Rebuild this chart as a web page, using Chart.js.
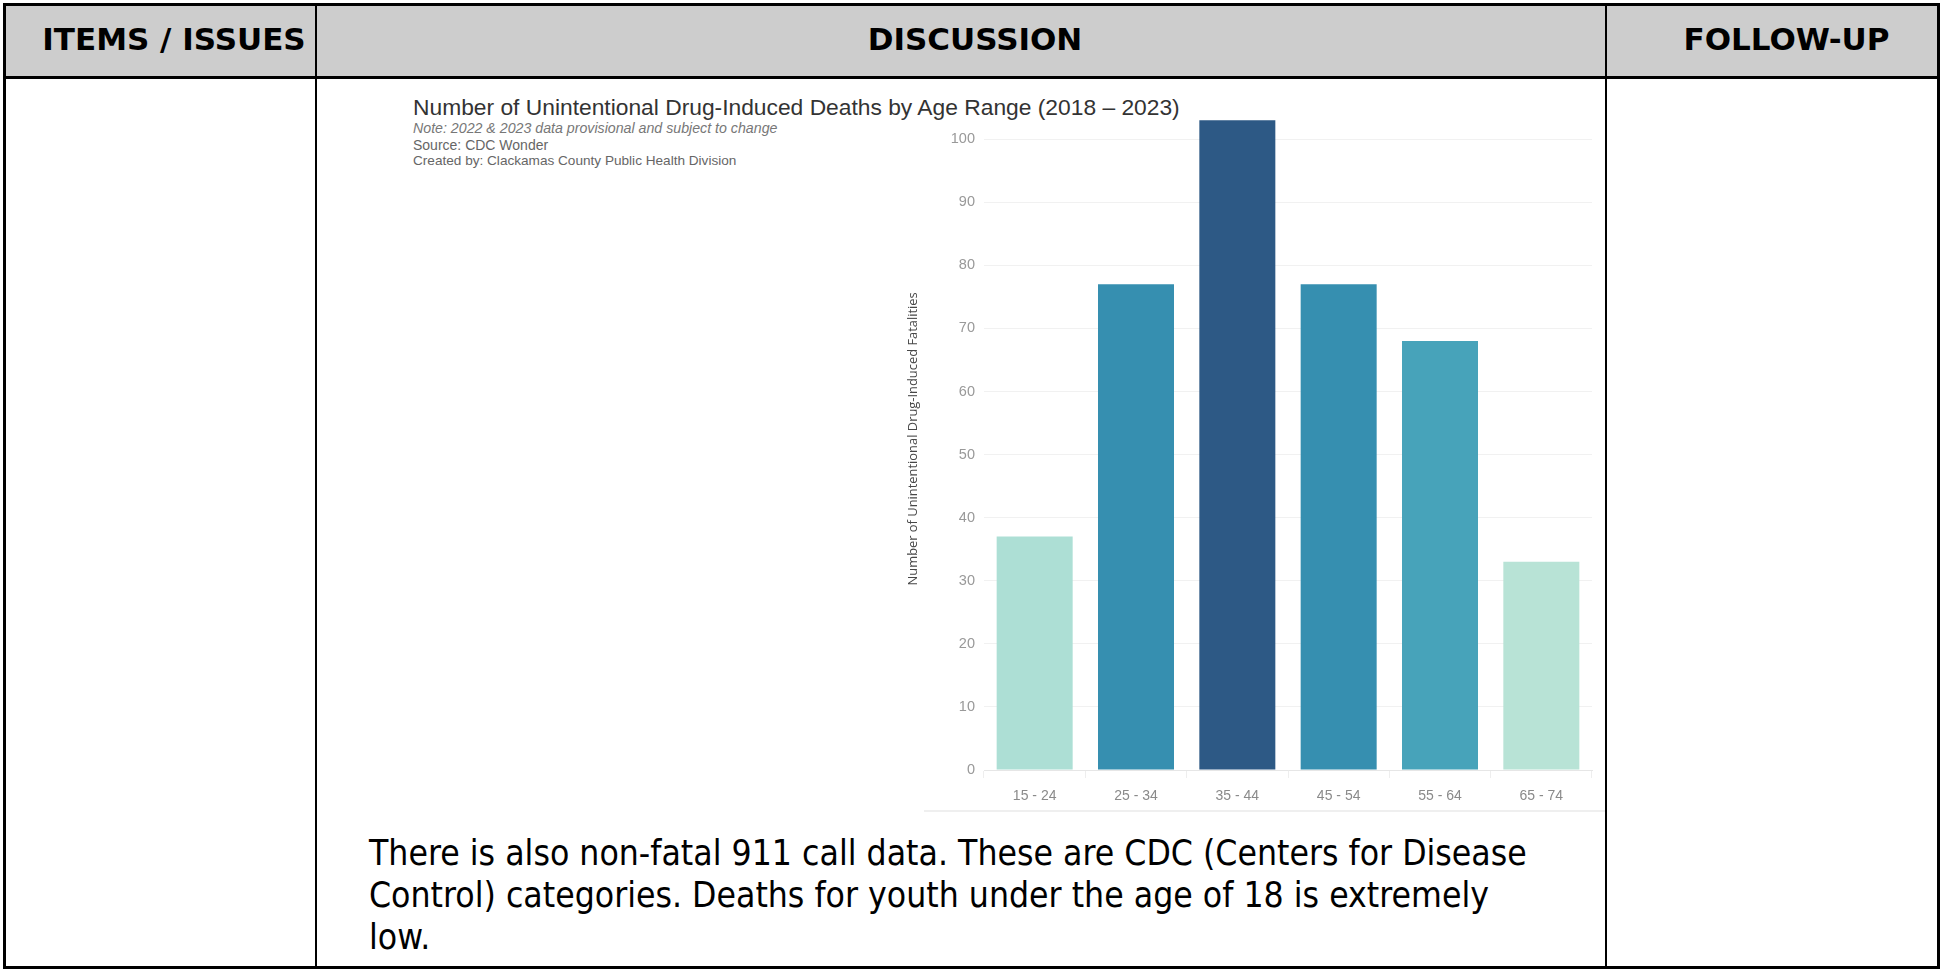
<!DOCTYPE html>
<html>
<head>
<meta charset="utf-8">
<script src="https://cdn.jsdelivr.net/npm/chart.js@4.4.1/dist/chart.umd.min.js"></script>
<style>
  html, body { margin: 0; padding: 0; background: #fff; }
  #page { position: relative; width: 1944px; height: 971px; overflow: hidden; font-family: "DejaVu Sans", Verdana, sans-serif; }
  .line { position: absolute; background: #000; }
  .head { position: absolute; top: 4px; height: 74px; background: #cdcdcd; }
  .htext { position: absolute; top: 2px; height: 74px; line-height: 74px; text-align: center; font-weight: bold; font-size: 31px; color: #000; }
  .ctext { position: absolute; white-space: nowrap; font-family: "Liberation Sans", Arial, sans-serif; }
  #title { left: 413px; top: 94px; font-size: 22.8px; color: #333; }
  #note { left: 413px; top: 120px; font-size: 14.2px; color: #777; font-style: italic; }
  #src { left: 413px; top: 137px; font-size: 14px; color: #666; }
  #by { left: 413px; top: 153px; font-size: 13.6px; color: #666; }
  #para { position: absolute; left: 369px; top: 832px; white-space: nowrap; font-size: 35px; line-height: 42px; color: #000;
          font-family: "DejaVu Sans", Verdana, sans-serif; transform: scaleX(0.905); transform-origin: 0 0; }
  #wrap { position: absolute; left: 880px; top: 90px; width: 730px; height: 730px; }
  #baseline { position: absolute; left: 924px; top: 810px; width: 682px; height: 2px; background: #efefef; }
</style>
</head>
<body>
<div id="page">
  <!-- header row -->
  <div class="head" style="left:4px; width:1935px;"></div>
  <div class="htext" style="left:18px; width:312px;">ITEMS / ISSUES</div>
  <div class="htext" style="left:330px; width:1290px;">DISCUSSION</div>
  <div class="htext" style="left:1620px; width:333px;">FOLLOW-UP</div>

  <!-- chart header text -->
  <div class="ctext" id="title">Number of Unintentional Drug-Induced Deaths by Age Range (2018 – 2023)</div>
  <div class="ctext" id="note">Note: 2022 &amp; 2023 data provisional and subject to change</div>
  <div class="ctext" id="src">Source: CDC Wonder</div>
  <div class="ctext" id="by">Created by: Clackamas County Public Health Division</div>

  <div id="wrap"><canvas id="chart"></canvas></div>
  <div id="baseline"></div>

  <div id="para">There is also non-fatal 911 call data. These are CDC (Centers for Disease<br>Control) categories. Deaths for youth under the age of 18 is extremely<br>low.</div>

  <!-- table rules -->
  <div class="line" style="left:3px; top:3px; width:1937px; height:3px;"></div>
  <div class="line" style="left:3px; top:76px; width:1937px; height:3px;"></div>
  <div class="line" style="left:3px; top:966px; width:1937px; height:3px;"></div>
  <div class="line" style="left:3px; top:3px; width:3px; height:966px;"></div>
  <div class="line" style="left:315px; top:3px; width:2px; height:966px;"></div>
  <div class="line" style="left:1605px; top:3px; width:2px; height:966px;"></div>
  <div class="line" style="left:1937px; top:3px; width:3px; height:966px;"></div>
</div>

<script>
// Age ranges and unintentional drug-induced deaths, 2018–2023
const ageRanges = ["15 - 24", "25 - 34", "35 - 44", "45 - 54", "55 - 64", "65 - 74"];
const deaths = [37, 77, 103, 77, 68, 33];
const barColors = ["#addfd5", "#368fb0", "#2d5985", "#368fb0", "#47a3ba", "#b8e3d6"];
const yTicks = [0, 10, 20, 30, 40, 50, 60, 70, 80, 90, 100];

new Chart(document.getElementById("chart"), {
  type: "bar",
  data: {
    labels: ageRanges,
    datasets: [{
      data: deaths,
      backgroundColor: barColors,
      borderWidth: 0,
      categoryPercentage: 0.75,
      barPercentage: 1.0
    }]
  },
  options: {
    responsive: true,
    maintainAspectRatio: false,
    animation: false,
    layout: { padding: { left: 0, right: 18, top: 16, bottom: 0 } },
    plugins: { legend: { display: false }, tooltip: { enabled: false } },
    scales: {
      x: {
        grid: { display: true, drawOnChartArea: false, color: "#eeeeee", tickLength: 8, offset: true },
        border: { display: true, color: "#e6e6e6", width: 1 },
        ticks: { color: "#8a8a8a", font: { family: "Liberation Sans, sans-serif", size: 14 }, padding: 10 },
        afterFit: s => { s.height = 50; }
      },
      y: {
        min: 0,
        max: 105,
        afterBuildTicks: s => { s.ticks = yTicks.map(v => ({ value: v })); },
        grid: { color: "#f1f1f1", drawTicks: false },
        border: { display: false },
        ticks: { color: "#999999", font: { family: "Liberation Sans, sans-serif", size: 14.5 }, padding: 9 },
        title: {
          display: true,
          text: "Number of Unintentional Drug-Induced Fatalities",
          color: "#474747",
          font: { family: "Open Sans, sans-serif", size: 12.9 },
          padding: { top: 26, bottom: 0 }
        },
        afterFit: s => { s.width = 104; }
      }
    }
  }
});
</script>
</body>
</html>
